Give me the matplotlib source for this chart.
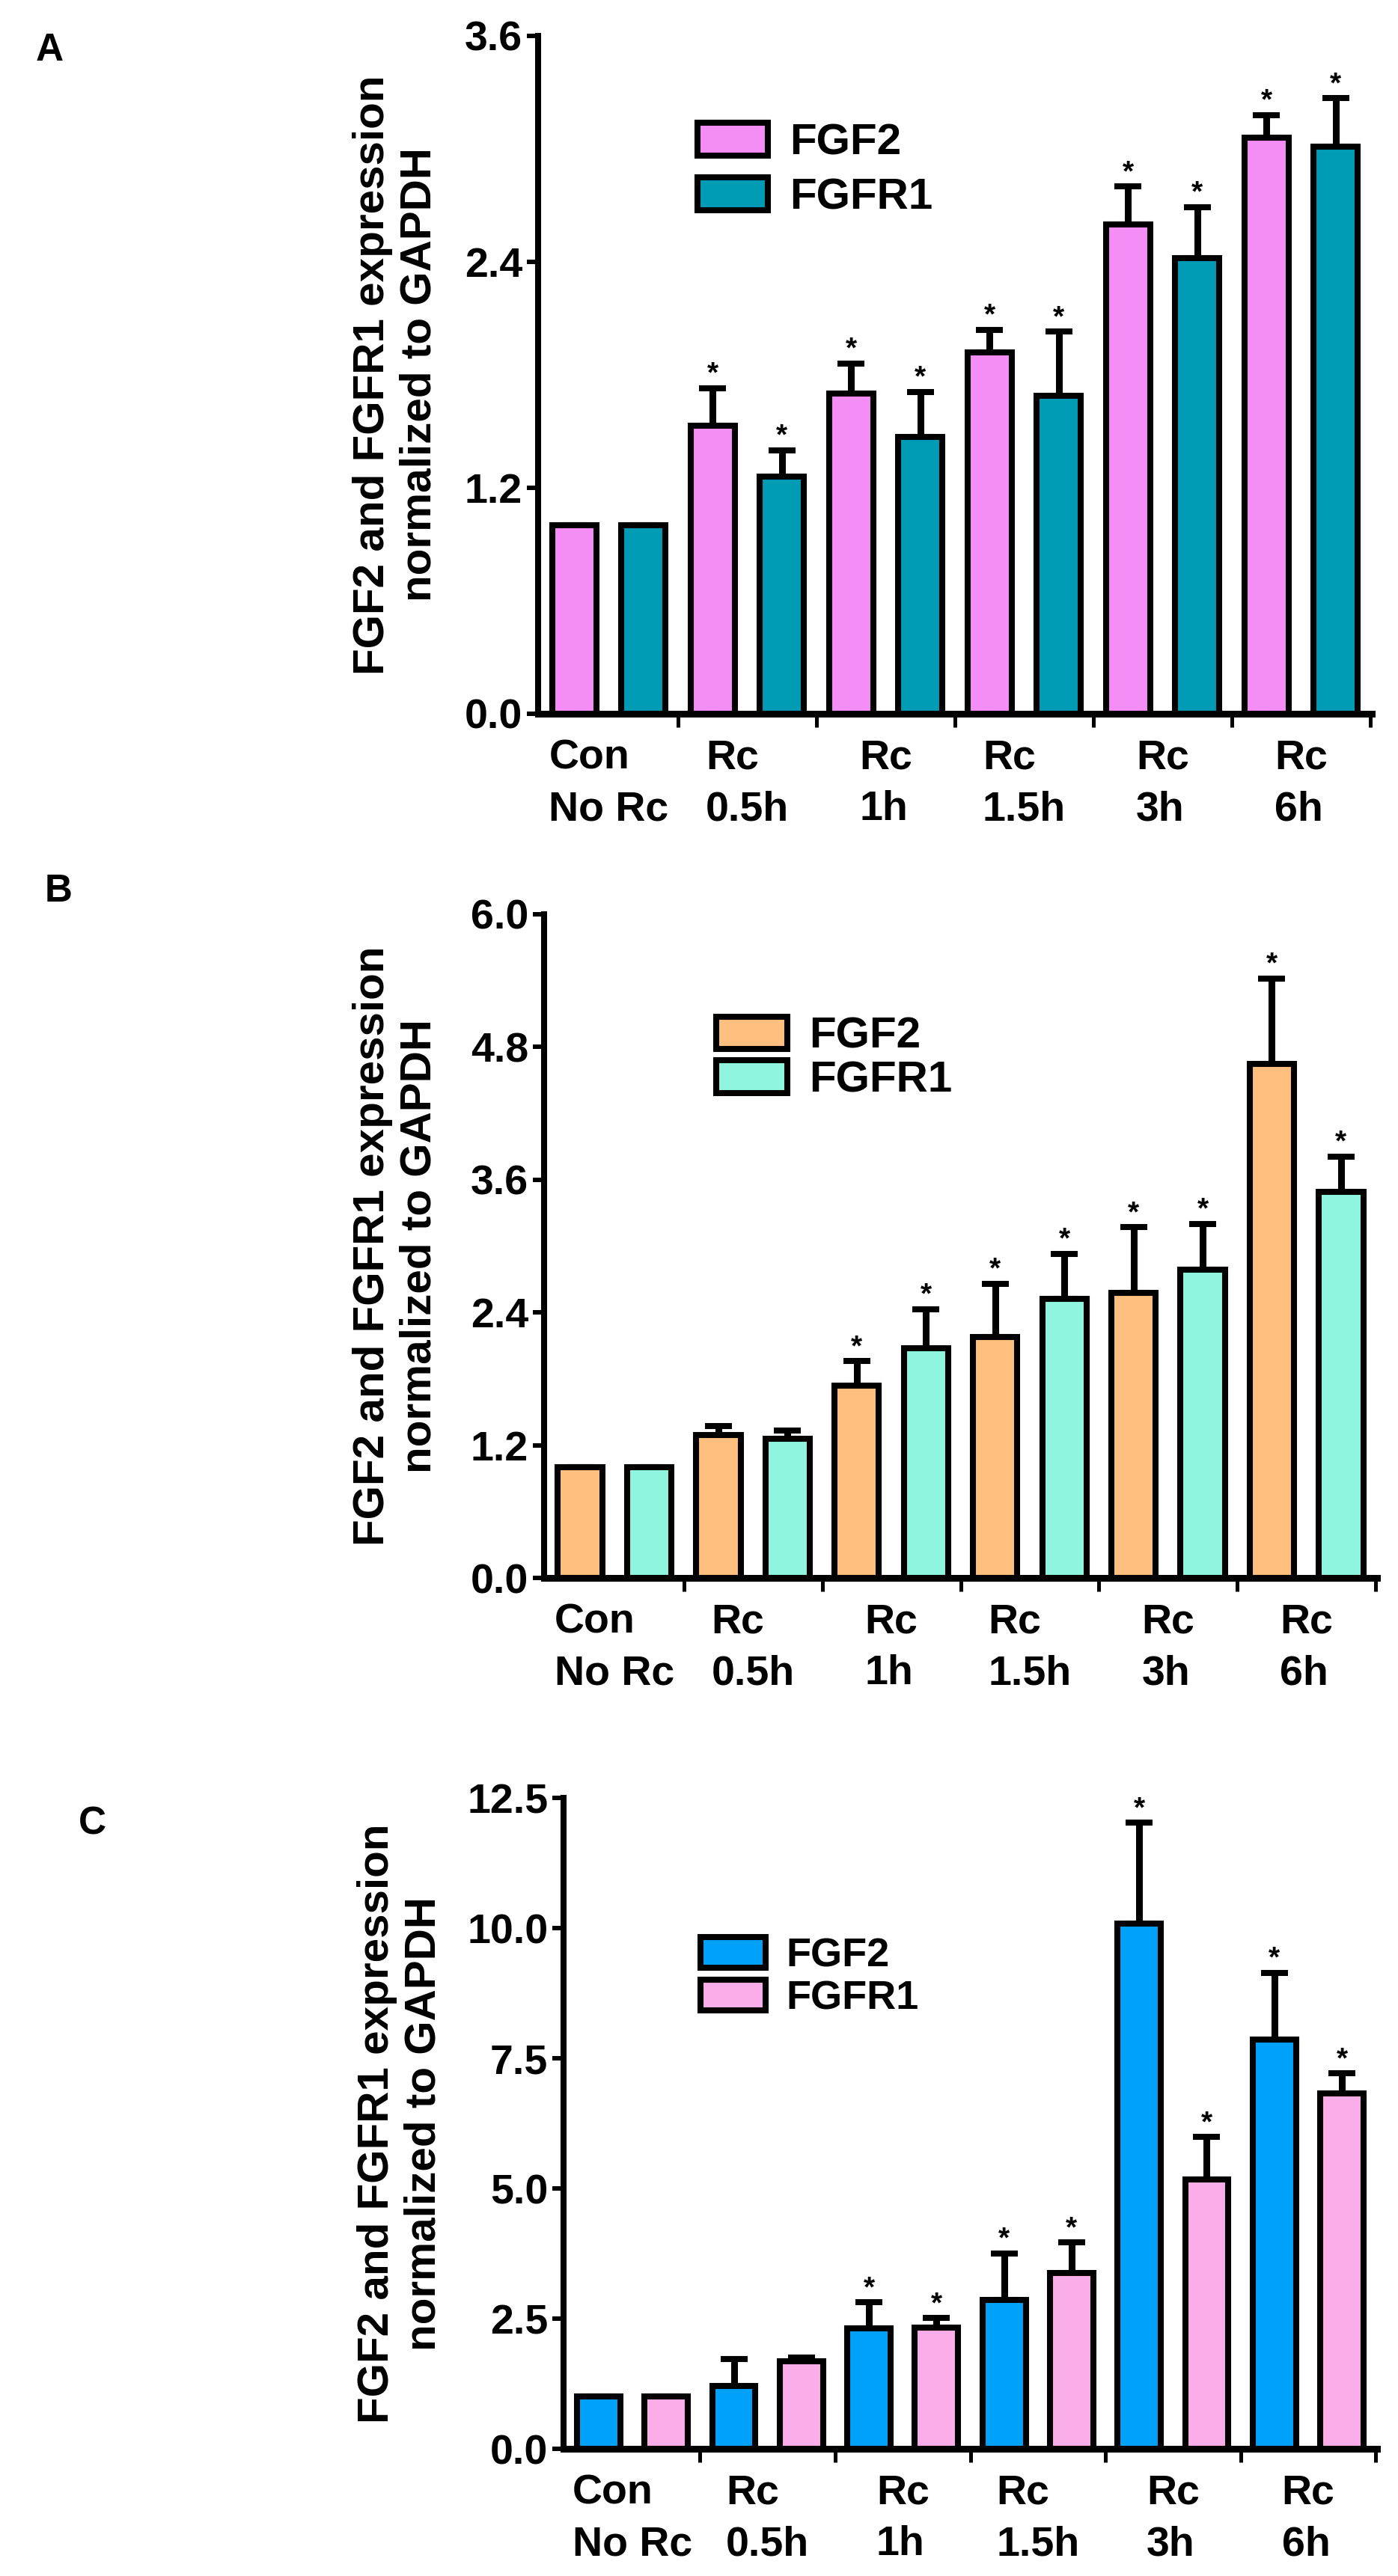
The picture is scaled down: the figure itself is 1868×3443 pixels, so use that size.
import numpy as np
import matplotlib
matplotlib.use("Agg")
import matplotlib.pyplot as plt

plt.rcParams['font.family'] = ['Liberation Sans', 'DejaVu Sans']
plt.rcParams['font.weight'] = 'bold'

groups = ['Con\nNo Rc', 'Rc\n0.5h', 'Rc\n1h', 'Rc\n1.5h', 'Rc\n3h', 'Rc\n6h']
series = ['FGF2', 'FGFR1']

# panel A
a_fgf2 = [1.00, 1.53, 1.70, 1.92, 2.60, 3.06]
a_fgf2_err = [0.00, 0.20, 0.16, 0.12, 0.20, 0.12]
a_fgfr1 = [1.00, 1.26, 1.47, 1.69, 2.42, 3.01]
a_fgfr1_err = [0.00, 0.14, 0.24, 0.34, 0.27, 0.26]
a_star_fgf2 = [0, 1, 1, 1, 1, 1]
a_star_fgfr1 = [0, 1, 1, 1, 1, 1]

# panel B
b_fgf2 = [1.00, 1.29, 1.74, 2.18, 2.58, 4.65]
b_fgf2_err = [0.00, 0.08, 0.22, 0.48, 0.59, 0.77]
b_fgfr1 = [1.00, 1.26, 2.08, 2.52, 2.79, 3.49]
b_fgfr1_err = [0.00, 0.07, 0.35, 0.41, 0.41, 0.32]
b_star_fgf2 = [0, 0, 1, 1, 1, 1]
b_star_fgfr1 = [0, 0, 1, 1, 1, 1]

# panel C
c_fgf2 = [1.00, 1.20, 2.31, 2.86, 10.09, 7.86]
c_fgf2_err = [0.00, 0.53, 0.50, 0.89, 1.93, 1.28]
c_fgfr1 = [1.00, 1.68, 2.33, 3.38, 5.17, 6.83]
c_fgfr1_err = [0.00, 0.08, 0.18, 0.58, 0.82, 0.38]
c_star_fgf2 = [0, 0, 1, 1, 1, 1]
c_star_fgfr1 = [0, 0, 1, 1, 1, 1]

W, H = 1868, 3443
fig = plt.figure(figsize=(W / 100, H / 100), dpi=100)


def px_axes(x0, x1, y0, ytop):
    return fig.add_axes([x0 / W, 1 - y0 / H, (x1 - x0) / W, (y0 - ytop) / H])


def panel(ax, fgf2, fgf2_err, fgfr1, fgfr1_err, st1, st2, colors, ymax, yticks,
          ylab_x, leg_xy, leg_fs, leg_sp):
    n = len(groups)
    x1 = np.arange(n) * 2
    x2 = x1 + 1
    lw = 5.8
    ax.bar(x1, fgf2, width=0.64, color=colors[0], edgecolor='black', linewidth=lw,
           label=series[0], zorder=2)
    ax.bar(x2, fgfr1, width=0.64, color=colors[1], edgecolor='black', linewidth=lw,
           label=series[1], zorder=2)
    for xs, m, e, st in [(x1, fgf2, fgf2_err, st1), (x2, fgfr1, fgfr1_err, st2)]:
        m = np.array(m)
        e = np.array(e)
        ax.errorbar(xs, m, yerr=[np.zeros_like(e), e], fmt='none', ecolor='black',
                    elinewidth=6.5, capsize=13, capthick=5.8, zorder=1)
        for xi, top, s in zip(xs, m + e, st):
            if s:
                ax.annotate('*', (xi, top), xytext=(0, 13), textcoords='offset points',
                            ha='center', va='center', fontsize=28, fontweight='bold',
                            annotation_clip=False)
    ax.set_xlim(-0.52, 11.52)
    ax.set_ylim(0, ymax)
    ax.set_yticks(yticks)
    ax.set_yticklabels(['%.1f' % v for v in yticks])
    ax.set_xticks(np.arange(1.5, 12, 2))
    ax.set_xticklabels([])
    ax.set_xticks(np.arange(0.5, 12, 2), minor=True)
    ax.set_xticklabels(groups, minor=True, multialignment='left', linespacing=1.42)
    ax.tick_params(axis='x', which='major', direction='out', length=13, width=3.6)
    ax.tick_params(axis='x', which='minor', length=0, pad=24, labelsize=40)
    ax.tick_params(axis='y', direction='out', length=11, width=4.3, pad=4, labelsize=40)
    for sp in ['top', 'right']:
        ax.spines[sp].set_visible(False)
    ax.spines['left'].set_linewidth(5.8)
    ax.spines['bottom'].set_linewidth(6.5)
    ax.set_ylabel('FGF2 and FGFR1 expression\nnormalized to GAPDH', fontsize=42,
                  fontweight='bold')
    ax.yaxis.set_label_coords(ylab_x, 0.5)
    ax.legend(loc='upper left', bbox_to_anchor=leg_xy, frameon=False, fontsize=leg_fs,
              handlelength=1.62, handleheight=0.78, handletextpad=0.5,
              labelspacing=leg_sp, borderpad=0, borderaxespad=0)


axA = px_axes(719, 1833, 954, 48)
panel(axA, a_fgf2, a_fgf2_err, a_fgfr1, a_fgfr1_err, a_star_fgf2, a_star_fgfr1,
      ['#F48DF5', '#009BB4'], 3.6, [0.0, 1.2, 2.4, 3.6], -0.118, (0.191, 0.872), 42, 0.32)

axB = px_axes(727, 1840, 2109, 1222)
panel(axB, b_fgf2, b_fgf2_err, b_fgfr1, b_fgfr1_err, b_star_fgf2, b_star_fgfr1,
      ['#FFC07F', '#90F5DE'], 6.0, [0.0, 1.2, 2.4, 3.6, 4.8, 6.0], -0.125, (0.207, 0.846), 42, 0.08)

axC = px_axes(753, 1840, 3273, 2403)
panel(axC, c_fgf2, c_fgf2_err, c_fgfr1, c_fgfr1_err, c_star_fgf2, c_star_fgfr1,
      ['#00A2F9', '#FBADE9'], 12.5, [0.0, 2.5, 5.0, 7.5, 10.0, 12.5], -0.147, (0.168, 0.786), 39, 0.13)

for letter, xl, yb in [('A', 48, 81), ('B', 60, 1205), ('C', 105, 2452)]:
    fig.text(xl / W, 1 - yb / H, letter, fontsize=37, fontweight='bold',
             ha='left', va='baseline')

fig.savefig('out.png', dpi=100)
